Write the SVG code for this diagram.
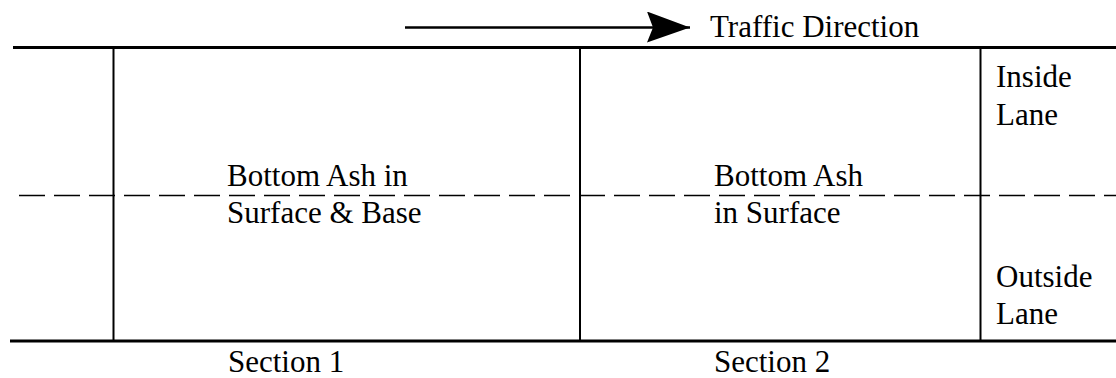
<svg xmlns="http://www.w3.org/2000/svg" width="1116" height="378" viewBox="0 0 1116 378">
<style>
.t{font-family:"Liberation Serif","Times New Roman",serif;font-size:31px;fill:#000}
.edge{stroke:#000;fill:none}
</style>
<defs>
<marker id="ah" markerUnits="userSpaceOnUse" markerWidth="44" markerHeight="32" refX="43" refY="16" orient="auto">
<path d="M0,0 L43,16 L0,31 L6,16 Z" fill="#000"/>
</marker>
</defs>
<rect width="1116" height="378" fill="#fff"/>
<g id="connectors">
<line class="edge" x1="405" y1="27.5" x2="690" y2="27.5" stroke-width="2.5" marker-end="url(#ah)"/>
</g>
<g id="road">
<line class="edge" x1="13" y1="47.5" x2="1116" y2="47.5" stroke-width="3"/>
<line class="edge" x1="10" y1="341" x2="1116" y2="341" stroke-width="3"/>
<line class="edge" x1="113.5" y1="47" x2="113.5" y2="341" stroke-width="2"/>
<line class="edge" x1="580" y1="47" x2="580" y2="341" stroke-width="2"/>
<line class="edge" x1="980.5" y1="47" x2="980.5" y2="341" stroke-width="2"/>
<line class="edge" x1="19" y1="195.5" x2="1116" y2="195.5" stroke-width="1.5" stroke-dasharray="26 9"/>
</g>
<g id="traffic"><text class="t" x="710" y="37">Traffic Direction</text></g>
<g id="section1">
<text class="t" x="227" y="186">Bottom Ash in</text>
<text class="t" x="227" y="223">Surface &amp; Base</text>
</g>
<g id="section2">
<text class="t" x="714" y="186">Bottom Ash</text>
<text class="t" x="714" y="223">in Surface</text>
</g>
<g id="inside"><text class="t" x="996" y="87">Inside</text><text class="t" x="996" y="125">Lane</text></g>
<g id="outside"><text class="t" x="996" y="287">Outside</text><text class="t" x="996" y="324">Lane</text></g>
<g id="labels">
<text class="t" x="228" y="372">Section 1</text>
<text class="t" x="714" y="372">Section 2</text>
</g>
</svg>
